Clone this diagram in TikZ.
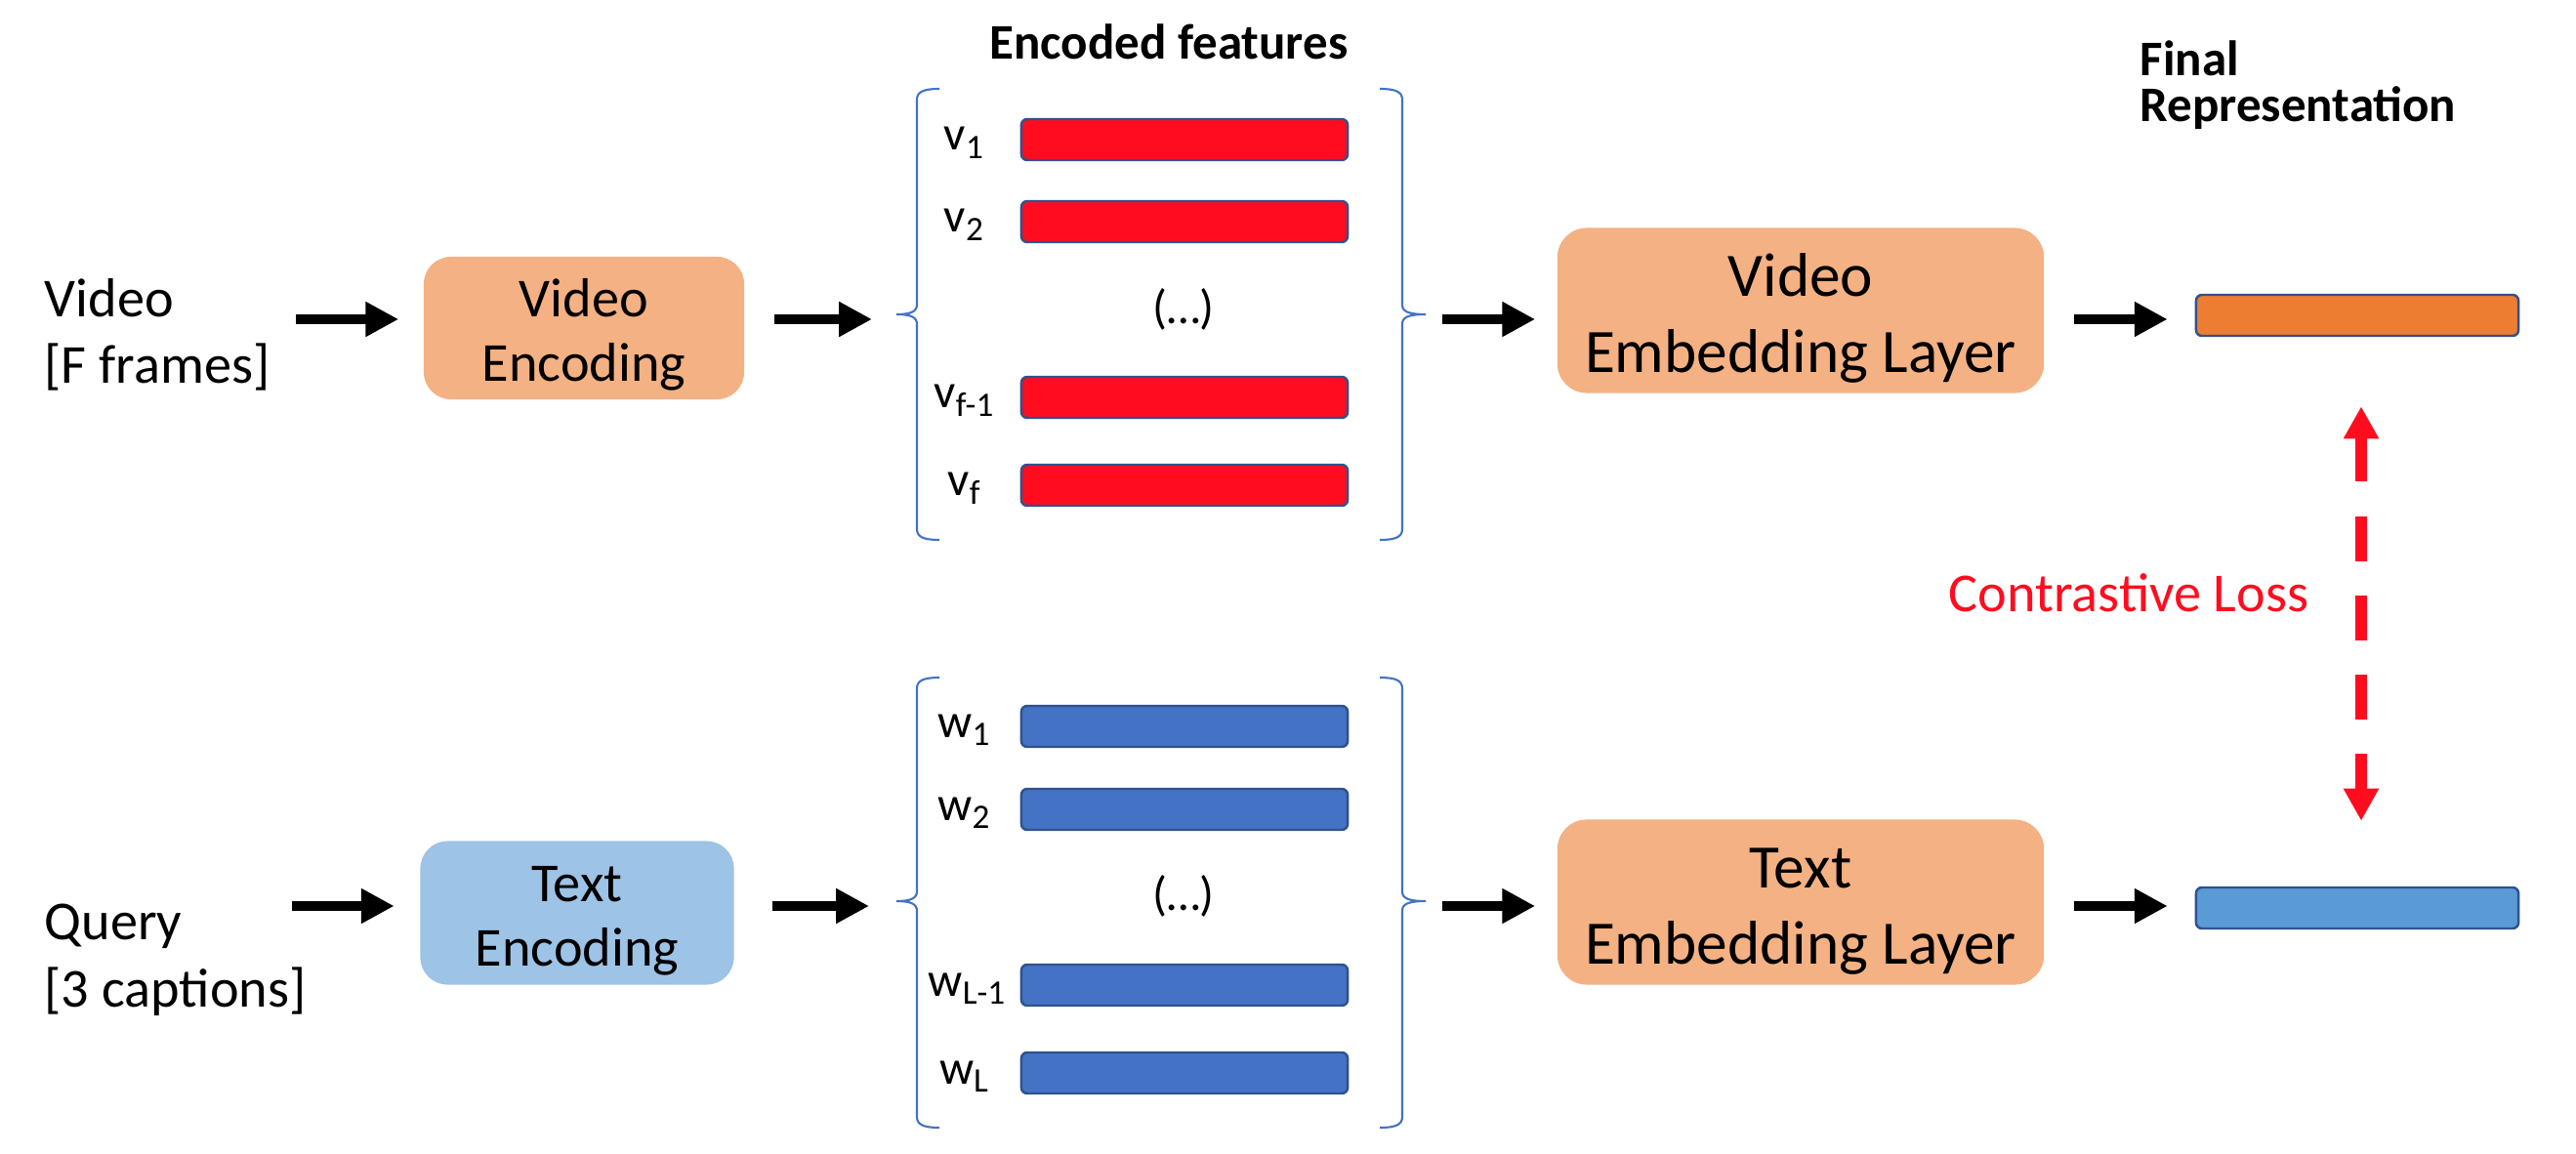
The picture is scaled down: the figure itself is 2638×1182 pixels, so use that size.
\documentclass[tikz,border=0pt]{standalone}
\usepackage{fontspec}
\setmainfont{Carlito}
\usetikzlibrary{arrows.meta}
\definecolor{boxorange}{HTML}{F4B183}
\definecolor{boxblue}{HTML}{9DC3E6}
\definecolor{barred}{HTML}{FF0D1F}
\definecolor{barblue}{HTML}{4472C4}
\definecolor{barline}{HTML}{2F528F}
\definecolor{finorange}{HTML}{ED7D31}
\definecolor{finblue}{HTML}{5B9BD5}
\definecolor{lossred}{HTML}{FF0D1F}
\definecolor{bracecol}{HTML}{4472C4}
\newcommand{\mysub}[1]{\raisebox{-2.4pt}{\fontsize{10}{10}\selectfont #1}}
\newcommand{\encstrut}{\rule{0pt}{15pt}}
\newcommand{\embstrut}{\rule{0pt}{17pt}}
\begin{document}
\begin{tikzpicture}[x=0.01cm,y=-0.01cm,
  encbox/.style={rounded corners=0.28cm, inner sep=0pt, align=center, font=\fontsize{16}{19}\selectfont},
  embbox/.style={fill=boxorange, rounded corners=0.3cm, minimum width=4.98cm, minimum height=1.69cm, inner sep=0pt, align=center, font=\fontsize{18}{22}\selectfont},
  feat/.style={draw=barline, line width=0.7pt, rounded corners=0.06cm, minimum width=3.34cm, minimum height=0.42cm, inner sep=0pt},
  lbl/.style={inner sep=0pt, font=\fontsize{14}{17}\selectfont},
  sidelbl/.style={inner sep=0pt, anchor=west, align=left, font=\fontsize{16}{19.5}\selectfont},
  title/.style={inner sep=0pt, font=\fontsize{14.5}{18}\selectfont\bfseries},
  blk/.style={line width=3.1pt, -{Triangle[length=9.6pt,width=9.6pt]}},
  lossarrow/.style={draw=lossred, line width=3.4pt, {Triangle[length=9.4pt,width=9.7pt]}-{Triangle[length=9.4pt,width=9.7pt]}, dash pattern=on 13.1pt off 10pt},
  brace/.style={draw=bracecol, line width=0.6pt}
]
\useasboundingbox (0,0) rectangle (2638,1182);

% titles
\node[title] (enctitle) at (1197,43) {Encoded features};
\node[title, anchor=west, align=left, font=\fontsize{14.5}{13.5}\selectfont\bfseries] (fintitle) at (2191,87) {Final\\Representation};

% ---------- video row ----------
\node[sidelbl] (vin) at (45,343) {Video\\{}[F frames]};
\node[encbox, fill=boxorange, minimum width=3.28cm, minimum height=1.46cm] (venc) at (598,336) {\encstrut Video\\Encoding};

\node[feat, fill=barred] (v1) at (1213,143) {};
\node[feat, fill=barred] (v2) at (1213,227) {};
\node[feat, fill=barred] (vf1) at (1213,407) {};
\node[feat, fill=barred] (vf) at (1213,497) {};
\node[lbl, anchor=base] (v1l) at (987,154) {v\mysub{1}};
\node[lbl, anchor=base] (v2l) at (987,238) {v\mysub{2}};
\node[lbl, anchor=base] (vf1l) at (987,418) {v\mysub{f-1}};
\node[lbl, anchor=base] (vfl) at (987,508) {v\mysub{f}};
\node[lbl] (vdots) at (1212,317) {(…)};

\draw[brace] (962,91) .. controls (946,91) and (939,94) .. (939,102) -- (939,312) .. controls (939,319) and (933,322) .. (918,322) .. controls (933,322) and (939,325) .. (939,332) -- (939,542) .. controls (939,550) and (946,553) .. (962,553);
\draw[brace] (1413,91) .. controls (1429,91) and (1436,94) .. (1436,102) -- (1436,312) .. controls (1436,319) and (1442,322) .. (1460,322) .. controls (1442,322) and (1436,325) .. (1436,332) -- (1436,542) .. controls (1436,550) and (1429,553) .. (1413,553);
\coordinate (vbl) at (918,322);
\coordinate (vbr) at (1460,322);

\node[embbox] (vemb) at (1844,318) {\embstrut Video\\Embedding Layer};
\node[feat, fill=finorange, minimum width=3.30cm] (vfin) at (2414,323) {};

\coordinate (vstart) at (303,327);
\draw[blk, shorten >=0.25cm] (vstart) -- (venc.west |- vstart);
\draw[blk, shorten <=0.30cm, shorten >=0.25cm] (venc.east |- vstart) -- (vbl |- vstart);
\draw[blk, shorten <=0.17cm, shorten >=0.22cm] (vbr |- vstart) -- (vemb.west |- vstart);
\draw[blk, shorten <=0.30cm, shorten >=0.28cm] (vemb.east |- vstart) -- (vfin.west |- vstart);

% ---------- text row ----------
\node[sidelbl] (qin) at (45,983) {Query\\{}[3 captions]};
\node[encbox, fill=boxblue, minimum width=3.21cm, minimum height=1.47cm] (tenc) at (591,935) {\encstrut Text\\Encoding};

\node[feat, fill=barblue] (w1) at (1213,744) {};
\node[feat, fill=barblue] (w2) at (1213,829) {};
\node[feat, fill=barblue] (wl1) at (1213,1009) {};
\node[feat, fill=barblue] (wl) at (1213,1099) {};
\node[lbl, anchor=base] (w1l) at (987,755) {w\mysub{1}};
\node[lbl, anchor=base] (w2l) at (987,840) {w\mysub{2}};
\node[lbl, anchor=base] (wl1l) at (990,1020) {w\mysub{L-1}};
\node[lbl, anchor=base] (wll) at (987,1110) {w\mysub{L}};
\node[lbl] (wdots) at (1212,918) {(…)};

\draw[brace] (962,694) .. controls (946,694) and (939,697) .. (939,705) -- (939,913) .. controls (939,920) and (933,923) .. (918,923) .. controls (933,923) and (939,926) .. (939,933) -- (939,1144) .. controls (939,1152) and (946,1155) .. (962,1155);
\draw[brace] (1413,694) .. controls (1429,694) and (1436,697) .. (1436,705) -- (1436,913) .. controls (1436,920) and (1442,923) .. (1460,923) .. controls (1442,923) and (1436,926) .. (1436,933) -- (1436,1144) .. controls (1436,1152) and (1429,1155) .. (1413,1155);
\coordinate (tbl) at (918,923);
\coordinate (tbr) at (1460,923);

\node[embbox] (temb) at (1844,924) {\embstrut Text\\Embedding Layer};
\node[feat, fill=finblue, minimum width=3.30cm] (tfin) at (2414,930) {};

\coordinate (qstart) at (299,928);
\draw[blk, shorten >=0.26cm] (qstart) -- (tenc.west |- qstart);
\draw[blk, shorten <=0.39cm, shorten >=0.28cm] (tenc.east |- qstart) -- (tbl |- qstart);
\draw[blk, shorten <=0.17cm, shorten >=0.22cm] (tbr |- qstart) -- (temb.west |- qstart);
\draw[blk, shorten <=0.30cm, shorten >=0.28cm] (temb.east |- qstart) -- (tfin.west |- qstart);

% ---------- contrastive loss ----------
\node[inner sep=0pt, text=lossred, font=\fontsize{16}{19}\selectfont] (loss) at (2180,607) {Contrastive Loss};
\draw[lossarrow, shorten <=0.71cm, shorten >=0.67cm] ([xshift=0.04cm]vfin.south) -- ([xshift=0.04cm]tfin.north);
\end{tikzpicture}
\end{document}
